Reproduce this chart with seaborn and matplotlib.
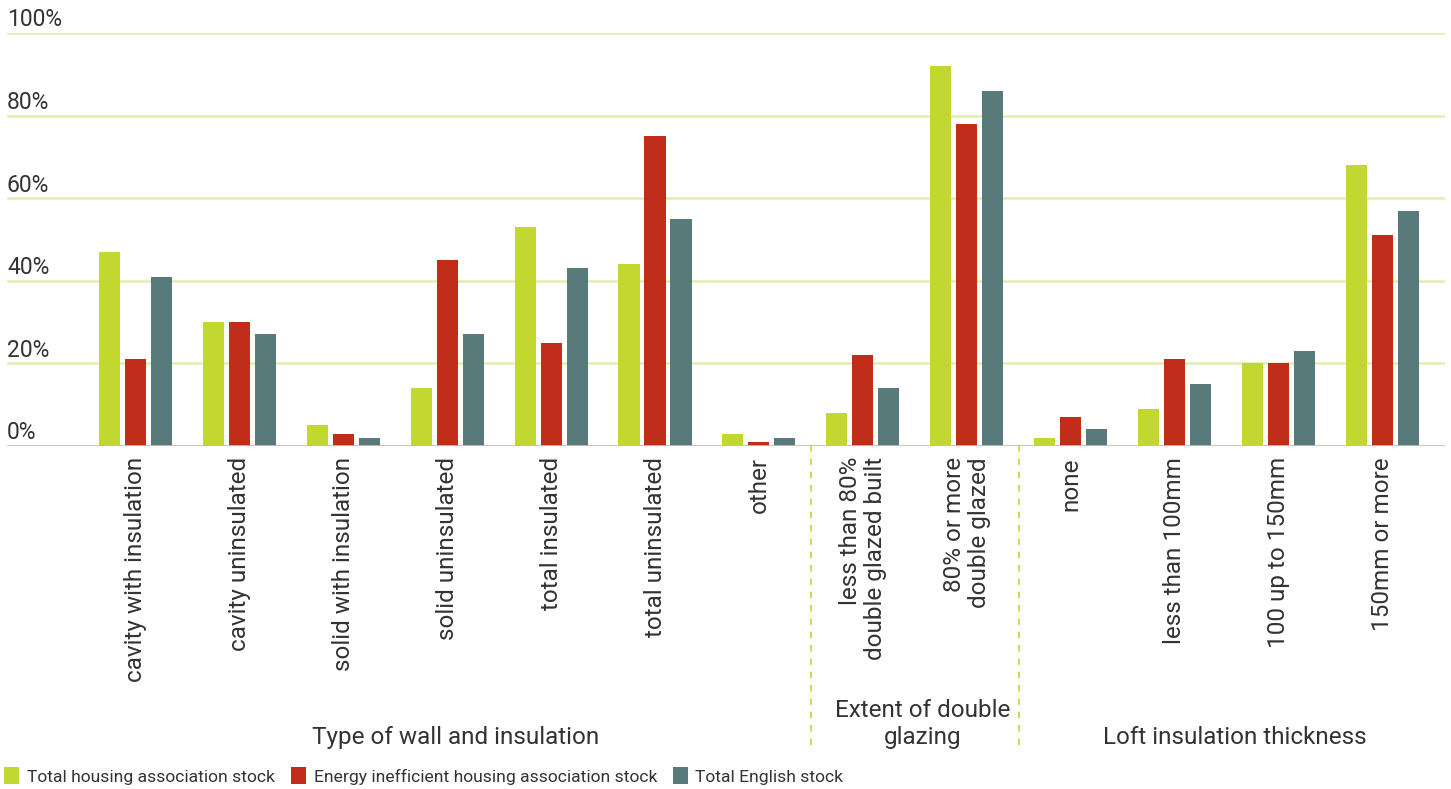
import matplotlib
matplotlib.use("Agg")
import matplotlib.pyplot as plt
import seaborn as sns
import pandas as pd
import numpy as np

categories = [
    "cavity with insulation", "cavity uninsulated", "solid with insulation",
    "solid uninsulated", "total insulated", "total uninsulated", "other",
    "less than 80%\ndouble glazed built", "80% or more\ndouble glazed",
    "none", "less than 100mm", "100 up to 150mm", "150mm or more",
]
series_names = [
    "Total housing association stock",
    "Energy inefficient housing association stock",
    "Total English stock",
]
total_ha = [47, 30, 5, 14, 53, 44, 3, 8, 92, 2, 9, 20, 68]
inefficient_ha = [21, 30, 3, 45, 25, 75, 1, 22, 78, 7, 21, 20, 51]
total_english = [41, 27, 2, 27, 43, 55, 2, 14, 86, 4, 15, 23, 57]
y_ticks = [0, 20, 40, 60, 80, 100]
y_tick_labels = ["0%", "20%", "40%", "60%", "80%", "100%"]
groups = [
    ("Type of wall and insulation", 0, 6),
    ("Extent of double\nglazing", 7, 8),
    ("Loft insulation thickness", 9, 12),
]

colors = ["#C2D72F", "#C02D1A", "#587A7A"]
grid_color = "#E3EDAE"
axis_color = "#C2D72F"
text_color = "#333333"

sns.set_theme(style="white")
plt.rcParams["font.family"] = ["Roboto", "DejaVu Sans"]

df = pd.DataFrame({
    "category": categories * 3,
    "series": sum([[s] * len(categories) for s in series_names], []),
    "value": total_ha + inefficient_ha + total_english,
})

fig = plt.figure(figsize=(14.51, 7.89), dpi=100)
ax = fig.add_axes([7 / 1451, 343 / 789, (1445 - 7) / 1451, 413 / 789])

sns.barplot(data=df, x="category", y="value", hue="series", order=categories,
            hue_order=series_names, palette=colors, width=0.75, gap=0.19,
            saturation=1, ax=ax, legend=True, linewidth=0)

ax.set_ylim(0, 100)
ax.set_xlim(-1.234, 12.6)
for s in ax.spines.values():
    s.set_visible(False)
for v in y_ticks[1:]:
    ax.axhline(v, color=grid_color, lw=1.8, zorder=0)
ax.axhline(0, color=axis_color, lw=2, zorder=3)

ax.set_yticks([])
ax.set_xlabel("")
ax.set_ylabel("")
ax.tick_params(axis="x", length=0, pad=8)
ax.set_xticks(range(len(categories)))
ax.set_xticklabels(categories, rotation=90, fontsize=17.5, color=text_color,
                   ma="right", linespacing=1.1)

for v, lab in zip(y_ticks, y_tick_labels):
    ax.text(0.0, v + 1.6, lab, transform=ax.get_yaxis_transform(),
            ha="left", va="baseline", fontsize=16.5, color=text_color)

# group separators
for xs in [6.5, 8.5]:
    ax.axvline(xs, ymin=-0.724, ymax=0, clip_on=False, color=axis_color,
               lw=1.2, ls=(0, (4, 4)))

trans = ax.get_xaxis_transform()
for name, a, b in groups:
    ax.text((a + b) / 2 + 0.08, -0.722, name, transform=trans, ha="center",
            va="baseline", fontsize=17.5, color=text_color, linespacing=1.25)

handles, labels = ax.get_legend_handles_labels()
ax.legend_.remove()
fig.legend(handles, labels, loc="lower left", bbox_to_anchor=(0.0, 0.0),
           ncol=3, frameon=False, fontsize=12.6, handlelength=0.85,
           handleheight=1.15, handletextpad=0.45, columnspacing=0.9,
           labelcolor=text_color, borderaxespad=0.0, borderpad=0.25)

fig.savefig("out.png", dpi=100, facecolor="white")
